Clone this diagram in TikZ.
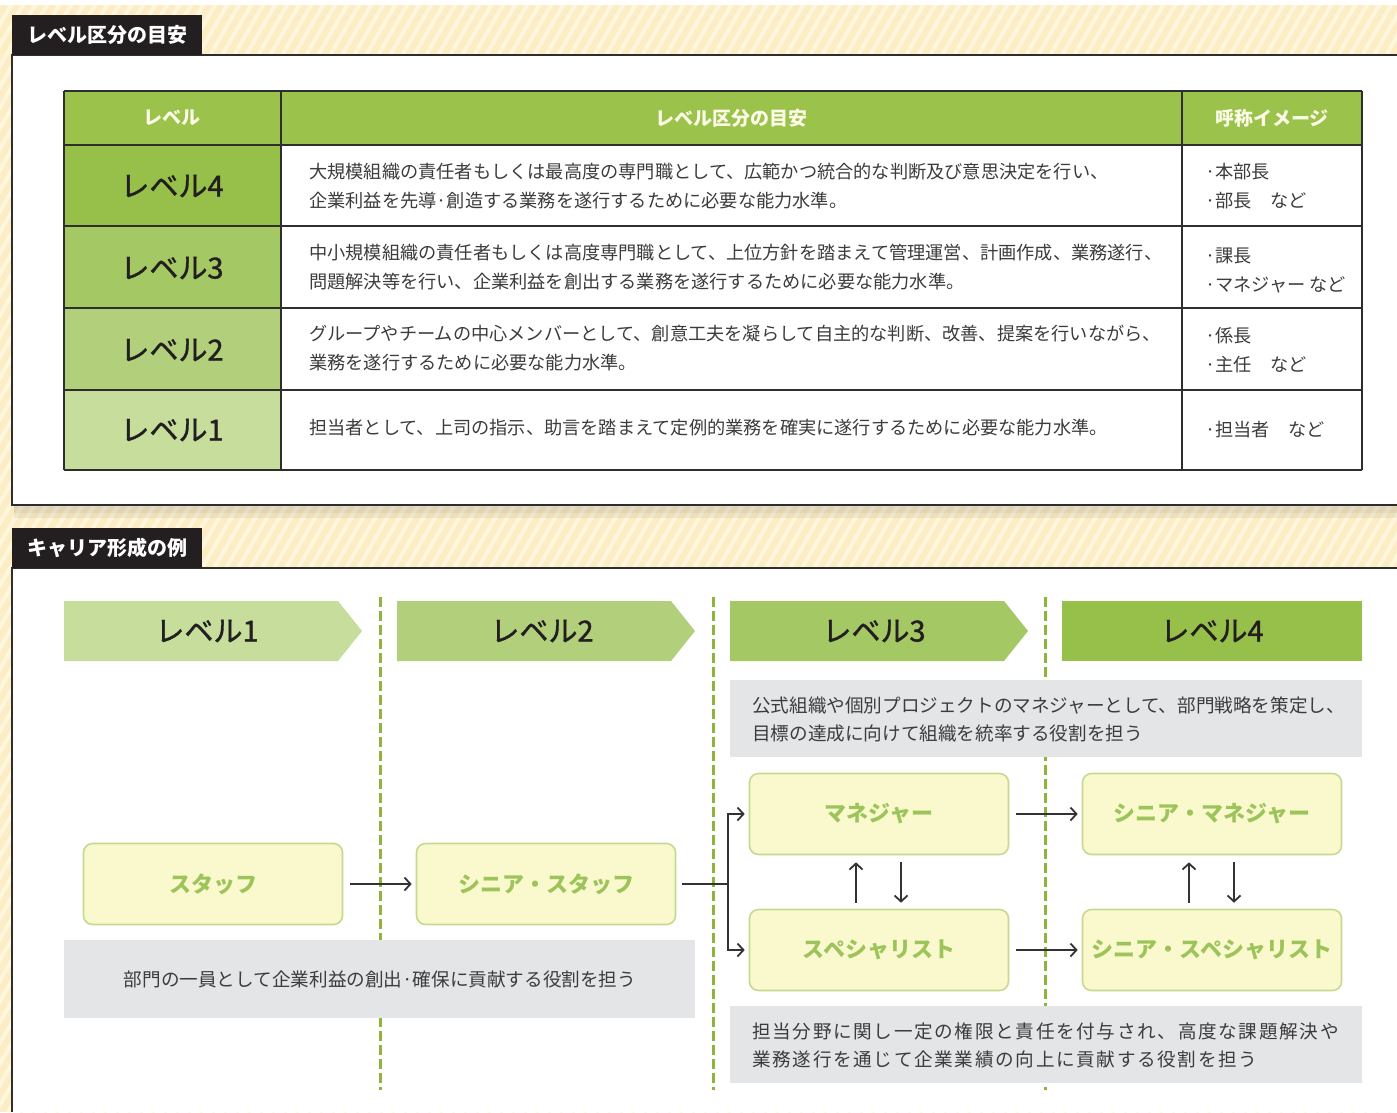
\documentclass[tikz,border=0pt]{standalone}
\usepackage{fontspec}
\newfontfamily\jp{Noto Sans CJK JP}
\newfontfamily\jpm[FakeBold=1.3]{Noto Sans CJK JP}
\newfontfamily\jpsp[LetterSpace=9]{Noto Sans CJK JP}
\usetikzlibrary{arrows.meta}
\definecolor{cream}{HTML}{FCEDC4}
\definecolor{stripec}{HTML}{FFF6DE}
\definecolor{tabblack}{HTML}{231F20}
\definecolor{rulec}{HTML}{2E2E2E}
\definecolor{ghead}{HTML}{9BC34B}
\definecolor{gfour}{HTML}{97C04B}
\definecolor{gthree}{HTML}{A4C863}
\definecolor{gtwo}{HTML}{B2D07B}
\definecolor{gone}{HTML}{C6DD9C}
\definecolor{headtxt}{HTML}{FBFBE8}
\definecolor{bodytxt}{HTML}{3C3C3C}
\definecolor{sepgreen}{HTML}{8DB53C}
\definecolor{grayfill}{HTML}{E4E5E7}
\definecolor{yfill}{HTML}{FAF8CD}
\definecolor{yborder}{HTML}{C6D98E}
\definecolor{ytext}{HTML}{9CC45B}
\definecolor{arrowc}{HTML}{333333}
\begin{document}
\begin{tikzpicture}[x=1pt,y=-1pt,
  tabbox/.style={fill=tabblack,text=white,font=\jp\bfseries\fontsize{20}{24}\selectfont,minimum width=190pt,minimum height=40pt,inner sep=0pt,anchor=north west},
  headtext/.style={text=headtxt,font=\jp\bfseries\fontsize{19}{24}\selectfont,inner sep=0pt},
  lvltext/.style={text=tabblack,font=\jpm\fontsize{29}{34}\selectfont,inner sep=0pt},
  desc/.style={text=bodytxt,font=\jp\fontsize{18.2}{29}\selectfont,align=left,anchor=west,inner sep=0pt},
  graytext/.style={text=bodytxt,font=\jp\fontsize{18.6}{28}\selectfont,align=left,inner sep=0pt},
  ybox/.style={draw=yborder,line width=1.6pt,fill=yfill,rounded corners=9pt,minimum width=259pt,minimum height=81pt,inner sep=0pt,text=ytext,font=\jp\bfseries\fontsize{22}{26}\selectfont},
  sepline/.style={sepgreen,line width=3pt,dash pattern=on 10pt off 4pt},
  arr/.style={arrowc,line width=1.8pt,-{Straight Barb[length=6pt,width=13pt]}},
  conn/.style={arrowc,line width=1.8pt},
  tline/.style={rulec,line width=1.5pt}
]
\useasboundingbox (0,0) rectangle (1397,1112);
% background
\fill[cream] (0,0) rectangle (1397,1112);
\begin{scope}
\clip (0,0) rectangle (1397,1112);
\foreach \i in {-700,-688,...,1400} \draw[stripec,line width=4pt] (\i,1112) -- ++(642,-1112);
\end{scope}
\fill[white] (0,0) rectangle (1397,5);
% top panel
\fill[black,opacity=0.10] (14,505) rectangle (1397,513);
\fill[black,opacity=0.06] (14,513) rectangle (1397,518);
\fill[white] (12,55) rectangle (1397,505);
\draw[tline] (1397,55) -- (12,55) -- (12,505) -- (1397,505);
\node[tabbox] (tab1) at (12,15) {レベル区分の目安};
% bottom panel
\fill[white] (12,568) rectangle (1397,1112);
\draw[tline] (1397,568) -- (12,568) -- (12,1112);
\node[tabbox] (tab2) at (12,528) {キャリア形成の例};
% table fills
\fill[ghead] (64,91) rectangle (1362,145);
\fill[gfour] (64,145) rectangle (281,226);
\fill[gthree] (64,226) rectangle (281,308);
\fill[gtwo] (64,308) rectangle (281,390);
\fill[gone] (64,390) rectangle (281,470);
\foreach \yy in {91,145,226,308,390,470} \draw[tline] (64,\yy) -- (1362,\yy);
\foreach \xx in {64,281,1182,1362} \draw[tline] (\xx,91) -- (\xx,470);
% header
\node[headtext] (h1) at (172,118) {レベル};
\node[headtext] (h2) at (731,118) {レベル区分の目安};
\node[headtext] (h3) at (1272,118) {呼称イメージ};
% level labels
\node[lvltext] (l4) at (172,186) {レベル4};
\node[lvltext] (l3) at (172,268) {レベル3};
\node[lvltext] (l2) at (172,350) {レベル2};
\node[lvltext] (l1) at (172,430) {レベル1};
% descriptions
\node[desc] (d4) at (309,186.5) {大規模組織の責任者もしくは最高度の専門職として、広範かつ統合的な判断及び意思決定を行い、\\企業利益を先導·創造する業務を遂行するために必要な能力水準。};
\node[desc] (d3) at (309,267.5) {中小規模組織の責任者もしくは高度専門職として、上位方針を踏まえて管理運営、計画作成、業務遂行、\\問題解決等を行い、企業利益を創出する業務を遂行するために必要な能力水準。};
\node[desc] (d2) at (309,348) {グループやチームの中心メンバーとして、創意工夫を凝らして自主的な判断、改善、提案を行いながら、\\業務を遂行するために必要な能力水準。};
\node[desc] (d1) at (309,428) {担当者として、上司の指示、助言を踏まえて定例的業務を確実に遂行するために必要な能力水準。};
% names
\node[desc] (n4) at (1205,186) {·本部長\\·部長　など};
\node[desc] (n3) at (1205,270) {·課長\\·マネジャー など};
\node[desc] (n2) at (1205,350) {·係長\\·主任　など};
\node[desc] (n1) at (1205,430) {·担当者　など};
% separators
\foreach \xx in {380,713,1045} \draw[sepline] (\xx,597) -- (\xx,1090);
% chevrons
\fill[gone] (64,601) -- (338,601) -- (362,631) -- (338,661) -- (64,661) -- cycle;
\fill[gtwo] (397,601) -- (671,601) -- (695,631) -- (671,661) -- (397,661) -- cycle;
\fill[gthree] (730,601) -- (1004,601) -- (1028,631) -- (1004,661) -- (730,661) -- cycle;
\fill[gfour] (1062,601) rectangle (1362,661);
\node[lvltext] (c1) at (207,631) {レベル1};
\node[lvltext] (c2) at (542,631) {レベル2};
\node[lvltext] (c3) at (874,631) {レベル3};
\node[lvltext] (c4) at (1212,631) {レベル4};
% gray boxes
\fill[grayfill] (730,680) rectangle (1362,757);
\node[graytext,anchor=west] (gb) at (752,719) {公式組織や個別プロジェクトのマネジャーとして、部門戦略を策定し、\\目標の達成に向けて組織を統率する役割を担う};
\fill[grayfill] (64,940) rectangle (695,1018);
\node[graytext] (ga) at (380,979) {部門の一員として企業利益の創出·確保に貢献する役割を担う};
\fill[grayfill] (730,1006) rectangle (1362,1083);
\node[graytext,font=\jpsp\fontsize{18.6}{28}\selectfont,anchor=west] (gc) at (752,1045) {担当分野に関し一定の権限と責任を付与され、高度な課題解決や\\業務遂行を通じて企業業績の向上に貢献する役割を担う};
% role boxes
\node[ybox] (staff) at (213,884) {スタッフ};
\node[ybox] (sstaff) at (546,884) {シニア・スタッフ};
\node[ybox] (mgr) at (879,814) {マネジャー};
\node[ybox] (spec) at (879,950) {スペシャリスト};
\node[ybox] (smgr) at (1212,814) {シニア・マネジャー};
\node[ybox] (sspec) at (1212,950) {シニア・スペシャリスト};
% connectors
\draw[arr] ([xshift=7pt]staff.east) -- ([xshift=-4pt]sstaff.west);
\coordinate (br) at (728,884);
\draw[conn] ([xshift=6pt]sstaff.east) -- (br);
\draw[conn] (728,814) -- (728,950);
\draw[arr] (br) |- ([xshift=-4pt]mgr.west);
\draw[arr] (br) |- ([xshift=-4pt]spec.west);
\draw[arr] ([xshift=7pt]mgr.east) -- ([xshift=-4pt]smgr.west);
\draw[arr] ([xshift=7pt]spec.east) -- ([xshift=-4pt]sspec.west);
\draw[arr] ([xshift=-23pt,yshift=6pt]spec.north) -- ([xshift=-23pt,yshift=-7pt]mgr.south);
\draw[arr] ([xshift=22pt,yshift=-7pt]mgr.south) -- ([xshift=22pt,yshift=6pt]spec.north);
\draw[arr] ([xshift=-23pt,yshift=6pt]sspec.north) -- ([xshift=-23pt,yshift=-7pt]smgr.south);
\draw[arr] ([xshift=22pt,yshift=-7pt]smgr.south) -- ([xshift=22pt,yshift=6pt]sspec.north);
\end{tikzpicture}
\end{document}
